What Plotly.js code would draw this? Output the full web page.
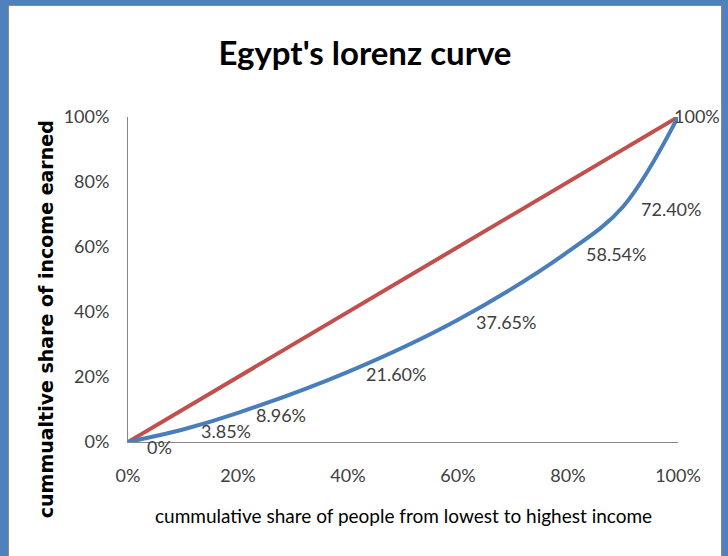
<!DOCTYPE html>
<html><head><meta charset="utf-8">
<script src="https://cdn.plot.ly/plotly-3.0.1.min.js"></script>
<style>
html,body{margin:0;padding:0;}
body{width:728px;height:556px;background:#4F81BD;position:relative;overflow:hidden;}
#frame{position:absolute;left:8px;top:5px;width:712px;height:560px;background:#fff;border:1px solid #8a8a8a;border-bottom:none;}
#chart{position:absolute;left:0;top:0;width:712px;height:551px;}
</style></head>
<body><div id="frame"><div id="chart"></div></div>
<script>
const people = [0, 0.10, 0.20, 0.40, 0.60, 0.80, 0.90, 1.00];
const incomeShare = [0, 0.0385, 0.0896, 0.2160, 0.3765, 0.5854, 0.7240, 1.00];
const pointLabels = ["0%", "3.85%", "8.96%", "21.60%", "37.65%", "58.54%", "72.40%", "100%"];
const equalityX = [0, 1];
const equalityY = [0, 1];
const tickVals = [0, 0.2, 0.4, 0.6, 0.8, 1.0];
const tickText = ["0%", "20%", "40%", "60%", "80%", "100%"];
const chartTitle = "Egypt's lorenz curve";
const xTitle = "cummulative share of people from lowest to highest income";
const yTitle = "cummualtive share of income earned";

const narrow = 'Lato, "Open Sans", sans-serif';

const labelAnns = people.map((x, i) => {
  const last = i === people.length - 1;
  return {
    x: x, y: incomeShare[i], text: pointLabels[i], xref: 'x', yref: 'y',
    showarrow: false, xanchor: 'left', yanchor: 'middle',
    xshift: last ? -6 : (i === 0 ? 17 : 16), yshift: i === 0 ? -5 : (last ? 1 : -2),
    font: {family: narrow, size: 18, color: '#404040'}
  };
});

const data = [
  {x: equalityX, y: equalityY, mode: 'lines', line: {color: '#C0504D', width: 4}, hoverinfo: 'skip'},
  {x: people, y: incomeShare, mode: 'lines', line: {color: '#4A7EBB', width: 4, shape: 'spline', smoothing: 1}, hoverinfo: 'skip'}
];

const layout = {
  width: 712, height: 551,
  margin: {l: 119, r: 43, t: 111, b: 115},
  paper_bgcolor: '#ffffff', plot_bgcolor: '#ffffff',
  showlegend: false,
  title: {text: '<b>' + chartTitle + '</b>', font: {family: narrow, size: 33, color: '#000'}, x: 0.5, xanchor: 'center', y: 0.913, yanchor: 'middle', yref: 'container'},
  xaxis: {range: [0, 1], tickvals: tickVals, ticktext: tickText, showgrid: false, zeroline: false,
    showline: true, linecolor: '#868686', linewidth: 1, ticks: '', ticklabelstandoff: 17,
    tickfont: {family: narrow, size: 18, color: '#404040'}, fixedrange: true},
  yaxis: {range: [0, 1], tickvals: tickVals, ticktext: tickText, showgrid: false, zeroline: false,
    showline: true, linecolor: '#868686', linewidth: 1, ticks: '', ticklabelstandoff: 14,
    tickfont: {family: narrow, size: 18, color: '#404040'}, fixedrange: true},
  annotations: labelAnns.concat([
    {text: xTitle, xref: 'paper', yref: 'paper', x: 0.5, y: -0.225, xanchor: 'center', yanchor: 'middle', showarrow: false,
     font: {family: narrow, size: 19, color: '#000'}},
    {text: '<b>' + yTitle + '</b>', xref: 'paper', yref: 'paper', x: -0.149, y: 0.378, xanchor: 'center', yanchor: 'middle', textangle: -90, showarrow: false,
     font: {family: '"DejaVu Sans", sans-serif', size: 19, color: '#000'}}
  ])
};

Plotly.newPlot('chart', data, layout, {displayModeBar: false, staticPlot: true});
</script>
</body></html>
